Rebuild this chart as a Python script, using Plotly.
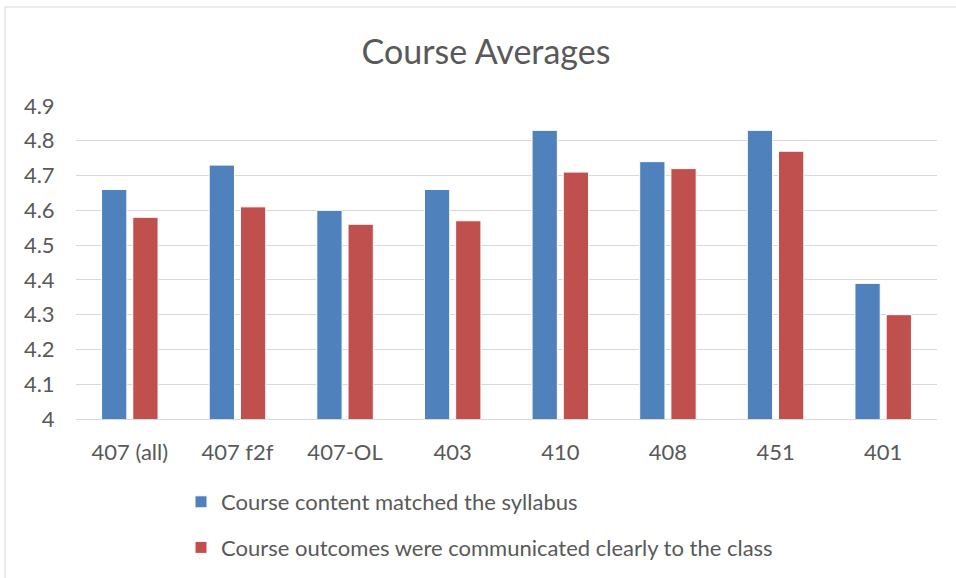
import plotly.graph_objects as go

courses = ["407 (all)", "407 f2f", "407-OL", "403", "410", "408", "451", "401"]
content_matched = [4.66, 4.73, 4.60, 4.66, 4.83, 4.74, 4.83, 4.39]
outcomes_clear = [4.58, 4.61, 4.56, 4.57, 4.71, 4.72, 4.77, 4.30]
y_ticks = [4, 4.1, 4.2, 4.3, 4.4, 4.5, 4.6, 4.7, 4.8, 4.9]
y_tick_text = ["4", "4.1", "4.2", "4.3", "4.4", "4.5", "4.6", "4.7", "4.8", "4.9"]

font_family = "Lato, 'Open Sans', sans-serif"
grey_text = "#595959"

W, H = 956, 578

fig = go.Figure()
fig.add_trace(
    go.Bar(
        x=courses,
        y=content_matched,
        name="Course content matched the syllabus",
        marker=dict(color="#4f81bd", line=dict(color="white", width=1)),
        legendgroup="a",
    )
)
fig.add_trace(
    go.Bar(
        x=courses,
        y=outcomes_clear,
        name="Course outcomes were communicated clearly to the class",
        marker=dict(color="#c0504d", line=dict(color="white", width=1)),
        legendgroup="b",
    )
)

fig.update_layout(
    width=W,
    height=H,
    margin=dict(l=76, r=19, t=106, b=159, autoexpand=False),
    paper_bgcolor="white",
    plot_bgcolor="white",
    barmode="group",
    bargap=0.42,
    bargroupgap=0.19,
    font=dict(family=font_family, color=grey_text, size=22),
    title=dict(
        text="Course Averages",
        x=486 / W,
        xanchor="center",
        xref="container",
        y=1 - 52 / H,
        yref="container",
        yanchor="middle",
        font=dict(size=34, color=grey_text, family=font_family),
    ),
    legend=dict(
        orientation="v",
        xref="container",
        yref="container",
        x=181 / W,
        xanchor="left",
        y=1 - 481 / H,
        yanchor="top",
        tracegroupgap=14,
        font=dict(size=22, color=grey_text),
        bgcolor="rgba(0,0,0,0)",
    ),
    # chart frame, open to the right and bottom like the source image
    shapes=[
        dict(
            type="rect",
            xref="paper",
            yref="paper",
            x0=(5 - 76) / 861,
            x1=1.2,
            y0=-0.7,
            y1=(419 - 7) / 313,
            line=dict(color="#d9d9d9", width=1),
            fillcolor="rgba(0,0,0,0)",
            layer="below",
        )
    ],
)

fig.update_xaxes(
    automargin=False,
    showgrid=False,
    showline=True,
    linecolor="#d9d9d9",
    linewidth=1,
    ticks="outside",
    ticklen=14,
    tickcolor="rgba(0,0,0,0)",
    tickfont=dict(size=22, color=grey_text),
)
fig.update_yaxes(
    automargin=False,
    range=[4, 4.9],
    tickvals=y_ticks,
    ticktext=y_tick_text,
    showgrid=True,
    gridcolor="#d9d9d9",
    gridwidth=1,
    zeroline=False,
    ticks="outside",
    ticklen=16,
    tickcolor="rgba(0,0,0,0)",
    tickfont=dict(size=22, color=grey_text),
)

# drop the default 8px page margin so the figure sits at the window origin
fig.write_html(
    "out.html",
    config={"displayModeBar": False},
    post_script="document.body.style.margin='0';",
)
